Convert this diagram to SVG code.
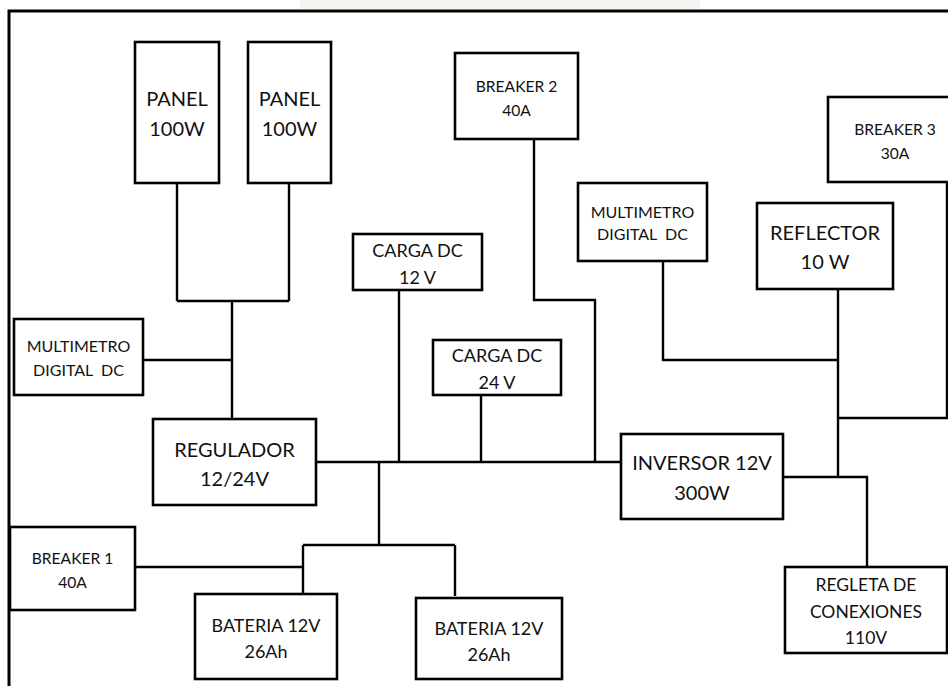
<svg xmlns="http://www.w3.org/2000/svg" width="948" height="686" viewBox="0 0 948 686">
<style>
.box{fill:#fff;stroke:#000;stroke-width:2.6}
.w{fill:none;stroke:#000;stroke-width:2.4}
text{font-family:Lato,"Open Sans","Liberation Sans",sans-serif;fill:#111;text-anchor:middle}
.L{font-size:20px}
.M{font-size:18px}
.S{font-size:15.6px}
.T{font-size:16px}
.R{font-size:17.5px}
</style>
<rect x="0" y="0" width="948" height="686" fill="#fff"/>
<rect x="300" y="0" width="400" height="9" fill="#efece8" opacity="0.6"/>
<g id="frame" class="w">
<path d="M9,686 V11 H948" stroke-width="3"/>
</g>
<g id="connectors" class="w">
<path d="M177,183 V301 M289,183 V301 M177,301 H289 M232,301 V419"/>
<path d="M143,360 H232"/>
<path d="M316,462 H621"/>
<path d="M399,290 V462"/>
<path d="M481,395 V462"/>
<path d="M534,139 V300 H595 V462"/>
<path d="M379,462 V545 M303,545 H455 M303,545 V594 M455,545 V596"/>
<path d="M135,567 H303"/>
<path d="M783,477 H867 V567"/>
<path d="M838,289 V477"/>
<path d="M663,261 V360 H838"/>
<path d="M838,418 H947 V182"/>
</g>
<g id="panel1"><rect class="box" x="135" y="42" width="84" height="141"/><text class="L" x="177" y="106">PANEL</text><text class="L" x="177" y="136">100W</text></g>
<g id="panel2"><rect class="box" x="248" y="42" width="83" height="141"/><text class="L" x="289.5" y="106">PANEL</text><text class="L" x="289.5" y="136">100W</text></g>
<g id="multimetro1"><rect class="box" x="14" y="319" width="129" height="76"/><text class="T" x="78.5" y="352">MULTIMETRO</text><text class="T" x="78.5" y="376" xml:space="preserve">DIGITAL  DC</text></g>
<g id="regulador"><rect class="box" x="153" y="419" width="163" height="86"/><text class="L" x="234.5" y="457">REGULADOR</text><text class="L" x="234.5" y="486">12/24V</text></g>
<g id="breaker1"><rect class="box" x="10" y="527" width="125" height="83"/><text class="S" x="72.5" y="564">BREAKER 1</text><text class="S" x="72.5" y="588">40A</text></g>
<g id="bateria1"><rect class="box" x="195" y="594" width="142" height="85"/><text class="M" x="266" y="632">BATERIA 12V</text><text class="M" x="266" y="658">26Ah</text></g>
<g id="bateria2"><rect class="box" x="416" y="598" width="146" height="81"/><text class="M" x="489" y="635">BATERIA 12V</text><text class="M" x="489" y="661">26Ah</text></g>
<g id="cargadc12"><rect class="box" x="353" y="234" width="129" height="56"/><text class="M" x="417.5" y="257">CARGA DC</text><text class="M" x="417.5" y="284">12 V</text></g>
<g id="cargadc24"><rect class="box" x="433" y="340" width="128" height="55"/><text class="M" x="497" y="362">CARGA DC</text><text class="M" x="497" y="389">24 V</text></g>
<g id="breaker2"><rect class="box" x="455" y="53" width="123" height="86"/><text class="S" x="516.5" y="92">BREAKER 2</text><text class="S" x="516.5" y="116">40A</text></g>
<g id="multimetro2"><rect class="box" x="578" y="183" width="129" height="78"/><text class="T" x="642.5" y="218">MULTIMETRO</text><text class="T" x="642.5" y="240" xml:space="preserve">DIGITAL  DC</text></g>
<g id="reflector"><rect class="box" x="757" y="203" width="136" height="86"/><text class="L" x="825" y="240">REFLECTOR</text><text class="L" x="825" y="269">10 W</text></g>
<g id="breaker3"><rect class="box" x="828" y="97" width="130" height="85"/><text class="S" x="895" y="135">BREAKER 3</text><text class="S" x="895" y="159">30A</text></g>
<g id="inversor"><rect class="box" x="621" y="434" width="162" height="85"/><text class="L" x="702" y="470">INVERSOR 12V</text><text class="L" x="702" y="500">300W</text></g>
<g id="regleta"><rect class="box" x="785" y="567" width="162" height="86"/><text class="R" x="866" y="591">REGLETA DE</text><text class="R" x="866" y="618">CONEXIONES</text><text class="R" x="866" y="644">110V</text></g>
</svg>
